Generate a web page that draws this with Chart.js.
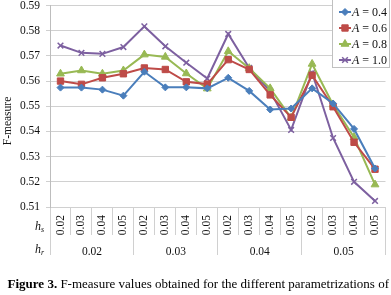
<!DOCTYPE html>
<html>
<head>
<meta charset="utf-8">
<script src="https://cdn.jsdelivr.net/npm/chart.js@4/dist/chart.umd.min.js"></script>
<style>
html,body{margin:0;padding:0;background:#fff;overflow:hidden;}
canvas{display:block;}
</style>
</head>
<body>
<canvas id="c" width="391" height="295"></canvas>
<script>
// ---- data ----
const hsLabels = ['0.02','0.03','0.04','0.05','0.02','0.03','0.04','0.05','0.02','0.03','0.04','0.05','0.02','0.03','0.04','0.05'];
const hrGroups = ['0.02','0.03','0.04','0.05'];
const seriesNames = ['A = 0.4','A = 0.6','A = 0.8','A = 1.0'];
const a04 = [0.5574,0.5574,0.5566,0.5542,0.5637,0.5575,0.5575,0.5571,0.5613,0.5561,0.5487,0.5491,0.5571,0.5511,0.5410,0.5253];
const a06 = [0.5600,0.5587,0.5613,0.5629,0.5652,0.5646,0.5597,0.5588,0.5685,0.5646,0.5545,0.5456,0.5623,0.5498,0.5357,0.5250];
const a08 = [0.5629,0.5642,0.5629,0.5642,0.5705,0.5696,0.5630,0.5570,0.5718,0.5651,0.5571,0.5454,0.5668,0.5506,0.5377,0.5189];
const a10 = [0.5741,0.5712,0.5708,0.5735,0.5817,0.5738,0.5673,0.5610,0.5787,0.5652,0.5559,0.5406,0.5633,0.5374,0.5200,0.5124];
const yTicks = [0.51,0.52,0.53,0.54,0.55,0.56,0.57,0.58,0.59];
const yTitle = 'F-measure';
const caption = ['Figure 3.', ' F-measure values obtained for the different parametrizations of'];

const SERIF = "'Liberation Serif','Times New Roman',serif";
const GRID = '#d0d0d0';

function ds(label, data, color, style, radius, bw) {
  return {label, data, borderColor: color, backgroundColor: color,
    pointBackgroundColor: color, pointBorderColor: color,
    pointStyle: style, pointRadius: radius, pointBorderWidth: bw,
    borderWidth: 2, tension: 0, fill: false};
}

const overlay = {
  id: 'overlay',
  afterDraw(chart) {
    const ctx = chart.ctx;
    const y = chart.scales.y;
    const x = chart.scales.x;
    const x2 = chart.scales.x2;
    ctx.save();
    // y title
    ctx.fillStyle = '#111';
    ctx.font = '11.5px ' + SERIF;
    ctx.textAlign = 'center';
    ctx.textBaseline = 'middle';
    ctx.translate(8, 121);
    ctx.rotate(-Math.PI/2);
    ctx.fillText(yTitle, 0, 0);
    ctx.setTransform(1,0,0,1,0,0);
    // row labels h_s, h_r
    function hLabel(sub, cy) {
      ctx.textBaseline = 'alphabetic';
      ctx.textAlign = 'left';
      ctx.font = 'italic 12px ' + SERIF;
      const w = ctx.measureText('h').width;
      ctx.font = 'italic 8px ' + SERIF;
      const ws = ctx.measureText(sub).width;
      const x0 = x.left - 6 - w - ws;
      ctx.font = 'italic 12px ' + SERIF;
      ctx.fillText('h', x0, cy);
      ctx.font = 'italic 8px ' + SERIF;
      ctx.fillText(sub, x0 + w, cy + 2);
    }
    hLabel('s', x.top + 23);
    hLabel('r', x2.top + 18);
    // caption
    ctx.textBaseline = 'alphabetic';
    ctx.textAlign = 'left';
    ctx.font = 'bold 13px ' + SERIF;
    const w1 = ctx.measureText(caption[0]).width;
    ctx.font = '13px ' + SERIF;
    const w2 = ctx.measureText(caption[1]).width;
    const cx = 389 - w1 - w2;
    ctx.fillStyle = '#000';
    ctx.font = 'bold 13px ' + SERIF;
    ctx.fillText(caption[0], cx, 288);
    ctx.font = '13px ' + SERIF;
    ctx.fillText(caption[1], cx + w1, 288);
    // legend
    const lx = 332, ly = -1, lw = 57, lh = 68;
    ctx.fillStyle = '#fff';
    ctx.fillRect(lx, ly, lw, lh);
    ctx.strokeStyle = '#c0c0c0';
    ctx.lineWidth = 1;
    ctx.strokeRect(lx + 0.5, ly + 0.5, lw, lh);
    chart.data.datasets.forEach((d, i) => {
      const cy = 12 + i * 16;
      ctx.strokeStyle = d.borderColor;
      ctx.lineWidth = 2;
      ctx.beginPath();
      ctx.moveTo(339, cy);
      ctx.lineTo(351, cy);
      ctx.stroke();
      ctx.fillStyle = d.backgroundColor;
      ctx.lineWidth = d.pointBorderWidth;
      Chart.helpers.drawPoint(ctx, {pointStyle: d.pointStyle, radius: d.pointRadius, borderWidth: d.pointBorderWidth, rotation: 0}, 345, cy);
      ctx.fillStyle = '#111';
      ctx.textBaseline = 'middle';
      ctx.textAlign = 'left';
      ctx.font = 'italic 12px ' + SERIF;
      const first = d.label.charAt(0);
      ctx.fillText(first, 352, cy + 0.5);
      const wa = ctx.measureText(first).width;
      ctx.font = '12px ' + SERIF;
      ctx.fillText(d.label.slice(1), 352 + wa, cy + 0.5);
    });
    ctx.restore();
  }
};

new Chart(document.getElementById('c'), {
  type: 'line',
  data: {
    labels: hsLabels,
    datasets: [
      ds(seriesNames[0], a04, '#4a7ebb', 'rectRot', 3.5, 1),
      ds(seriesNames[1], a06, '#be4b48', 'rect', 4.5, 1),
      ds(seriesNames[2], a08, '#98b954', 'triangle', 4.5, 1),
      ds(seriesNames[3], a10, '#7d60a0', 'crossRot', 4, 1.5)
    ]
  },
  options: {
    responsive: false,
    animation: false,
    devicePixelRatio: 1,
    layout: {padding: {left: 0, right: 1, top: 4, bottom: 40}},
    plugins: {legend: {display: false}, tooltip: {enabled: false}},
    scales: {
      y: {
        min: 0.51, max: 0.59,
        afterBuildTicks: (s) => { s.ticks = yTicks.map(v => ({value: v})); },
        ticks: {callback: (v) => Number(v).toFixed(2), color: '#111', padding: 6,
          font: {family: SERIF, size: 11.5}},
        grid: {color: GRID, tickLength: 4, lineWidth: 1},
        border: {color: '#bdbdbd'},
        afterFit: (s) => { s.width = 50; s.paddingTop = 0; s.paddingBottom = 0; }
      },
      x: {
        type: 'category', position: 'bottom', offset: true, weight: 0,
        grid: {offset: true, drawOnChartArea: false, tickLength: 28, color: GRID},
        border: {display: false},
        ticks: {minRotation: 90, maxRotation: 90, autoSkip: false, padding: -20, color: '#111',
          font: {family: SERIF, size: 11.5}},
        afterFit: (s) => { s.height = 28; s.paddingLeft = 0; s.paddingRight = 0; }
      },
      x2: {
        type: 'category', position: 'bottom', offset: true, weight: 1,
        labels: hrGroups,
        grid: {offset: true, drawOnChartArea: false, tickLength: 20, color: GRID},
        border: {display: false},
        ticks: {padding: -10, color: '#111', autoSkip: false, maxRotation: 0,
          font: {family: SERIF, size: 11.5}},
        afterFit: (s) => { s.height = 20; s.paddingLeft = 0; s.paddingRight = 0; }
      }
    }
  },
  plugins: [overlay]
});
</script>
</body>
</html>
